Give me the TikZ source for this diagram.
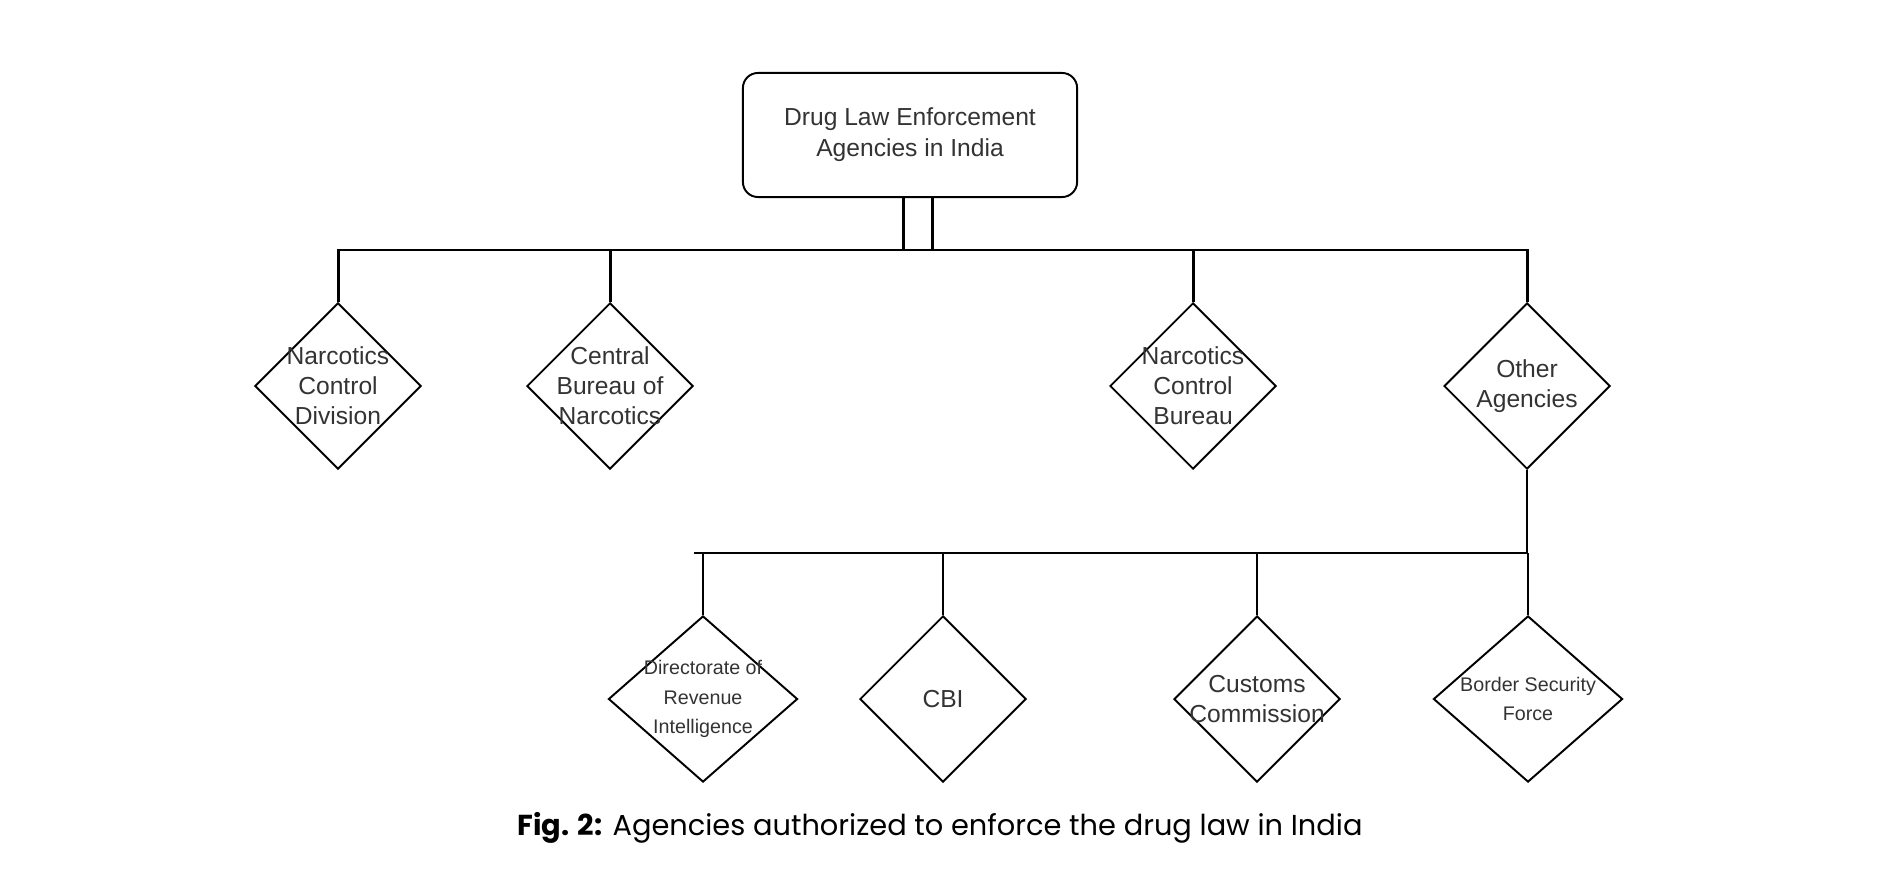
\documentclass[tikz,border=0pt]{standalone}
\usepackage{fontspec}
\setmainfont{Liberation Sans}
\newfontfamily\capfont{Poppins}
\usetikzlibrary{shapes.geometric}
\begin{document}
\begin{tikzpicture}[x=0.01cm,y=-0.01cm,
  txt/.style={text=black!80, align=center, font=\fontsize{7}{8.5}\selectfont},
  smalltxt/.style={text=black!80, align=center, font=\fontsize{5.6}{8.5}\selectfont},
  dia/.style={diamond, draw=black, line width=0.55pt, minimum width=1.66cm, minimum height=1.66cm, inner sep=0pt},
  widedia/.style={dia, minimum width=1.89cm},
  heavy/.style={line width=0.85pt, black},
  light/.style={line width=0.55pt, black},
]
\useasboundingbox (0,0) rectangle (1886,870);
% root
\node[draw, rounded corners=0.15cm, minimum width=3.34cm, minimum height=1.24cm,
      line width=0.55pt, txt, font=\fontsize{7}{8.6}\selectfont] (root) at (910,135)
      {\raisebox{-1.4pt}{\begin{tabular}{@{}c@{}}Drug Law Enforcement\\Agencies in India\end{tabular}}};
% first row
\node[dia, label={[txt]center:Narcotics\\Control\\Division}] (ncd) at (338,386) {};
\node[dia, label={[txt]center:Central\\Bureau of\\Narcotics}] (cbn) at (610,386) {};
\node[dia, label={[txt]center:Narcotics\\Control\\Bureau}] (ncb) at (1193,386) {};
\node[dia, label={[txt]center:Other\\Agencies}] (oth) at (1527,386) {};
% second row
\node[widedia, label={[smalltxt]center:Directorate of\\Revenue\\Intelligence}] (dri) at (703,699) {};
\node[dia, label={[txt]center:CBI}] (cbi) at (943,699) {};
\node[dia, label={[txt]center:Customs\\Commission}] (cus) at (1257,699) {};
\node[widedia, label={[smalltxt]center:Border Security\\Force}] (bsf) at (1528,699) {};
% buses
\coordinate (b1) at (910,250);
\coordinate (b2) at (694,553);
\draw[heavy] (ncd.north) |- (b1) -| (oth.north);
\draw[heavy] (cbn.north) -- (cbn.north |- b1);
\draw[heavy] (ncb.north) -- (ncb.north |- b1);
\draw[heavy] ([xshift=-0.07cm]root.south) -- ([xshift=-0.07cm]root.south |- b1);
\draw[heavy] ([xshift=0.22cm]root.south) -- ([xshift=0.22cm]root.south |- b1);
\draw[light] (oth.south) |- (b2);
\draw[light] (dri.north) -- (dri.north |- b2);
\draw[light] (cbi.north) -- (cbi.north |- b2);
\draw[light] (cus.north) -- (cus.north |- b2);
\draw[light] (bsf.north) -- (bsf.north |- b2);
% caption
\node[font=\capfont\fontsize{8.2}{9}\selectfont, anchor=base, inner sep=0pt] (cap) at (940,835)
  {\textbf{Fig. 2:} Agencies authorized to enforce the drug law in India};
\end{tikzpicture}
\end{document}
